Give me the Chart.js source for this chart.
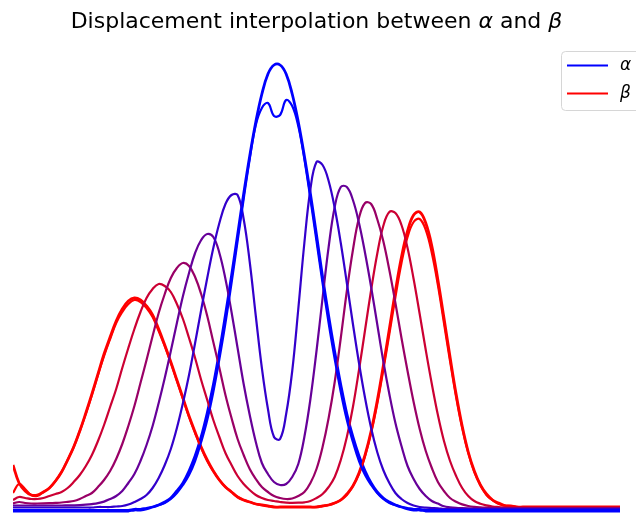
<!DOCTYPE html>
<html>
<head>
<meta charset="utf-8">
<script src="https://cdn.jsdelivr.net/npm/chart.js@4.4.1/dist/chart.umd.min.js"></script>
<style>
  html, body { margin: 0; padding: 0; background: #fff; }
</style>
</head>
<body>
<canvas id="interp" width="636" height="516"></canvas>
<script>
// 101 bins on the support
const xs = Array.from({ length: 101 }, (_, i) => i)

// source distribution
const alpha = [
  0, 0, 0, 0, 0, 0, 0, 0, 0, 0,
  0, 0, 0, 0, 0, 0, 0, 0, 0, 0,
  0.01, 0.01, 0.02, 0.04, 0.06, 0.09, 0.13, 0.2, 0.28, 0.4,
  0.55, 0.74, 0.98, 1.26, 1.59, 1.96, 2.35, 2.76, 3.17, 3.55,
  3.89, 4.17, 4.37, 4.46, 4.46, 4.37, 4.17, 3.89, 3.55, 3.17,
  2.76, 2.34, 1.95, 1.59, 1.26, 0.97, 0.74, 0.55, 0.4, 0.28,
  0.19, 0.13, 0.09, 0.06, 0.04, 0.02, 0.01, 0.01, 0, 0,
  0, 0, 0, 0, 0, 0, 0, 0, 0, 0,
  0, 0, 0, 0, 0, 0, 0, 0, 0, 0,
  0, 0, 0, 0, 0, 0, 0, 0, 0, 0, 0
]

// target distribution (two bumps)
const beta = [
  0.46, 0.28, 0.2, 0.16, 0.16, 0.19, 0.23, 0.3, 0.39, 0.51,
  0.64, 0.8, 0.98, 1.17, 1.37, 1.57, 1.74, 1.9, 2.02, 2.1,
  2.13, 2.11, 2.05, 1.96, 1.82, 1.66, 1.49, 1.31, 1.13, 0.95,
  0.79, 0.64, 0.51, 0.4, 0.31, 0.24, 0.19, 0.14, 0.11, 0.09,
  0.07, 0.06, 0.05, 0.04, 0.04, 0.04, 0.04, 0.04, 0.04, 0.04,
  0.04, 0.05, 0.06, 0.08, 0.11, 0.17, 0.25, 0.38, 0.56, 0.8,
  1.1, 1.45, 1.82, 2.2, 2.54, 2.8, 2.96, 2.99, 2.88, 2.65,
  2.31, 1.93, 1.54, 1.17, 0.85, 0.59, 0.4, 0.26, 0.17, 0.11,
  0.08, 0.055, 0.05, 0.04, 0.04, 0.04, 0.04, 0.04, 0.04, 0.04,
  0.04, 0.04, 0.04, 0.04, 0.04, 0.04, 0.04, 0.04, 0.04, 0.04, 0.04
]

// interpolated measures at t = 0, 0.2, 0.4, 0.6, 0.8, 1
const ts = [0, 0.2, 0.4, 0.6, 0.8, 1]

const interp0 = [
  0.01, 0.01, 0.01, 0.01, 0.01, 0.01, 0.01, 0.01, 0.01, 0.01,
  0.01, 0.01, 0.01, 0.01, 0.01, 0.01, 0.01, 0.01, 0.01, 0.01,
  0.02, 0.02, 0.03, 0.04, 0.06, 0.08, 0.12, 0.18, 0.26, 0.36,
  0.5, 0.69, 0.91, 1.19, 1.52, 1.88, 2.28, 2.7, 3.12, 3.52,
  3.86, 4.03, 4.08, 3.95, 3.96, 4.11, 4.05, 3.85, 3.52, 3.12,
  2.7, 2.28, 1.88, 1.52, 1.19, 0.91, 0.69, 0.5, 0.36, 0.26,
  0.18, 0.12, 0.08, 0.06, 0.04, 0.03, 0.02, 0.02, 0.01, 0.01,
  0.01, 0.01, 0.01, 0.01, 0.01, 0.01, 0.01, 0.01, 0.01, 0.01,
  0.01, 0.01, 0.01, 0.01, 0.01, 0.01, 0.01, 0.01, 0.01, 0.01,
  0.01, 0.01, 0.01, 0.01, 0.01, 0.01, 0.01, 0.01, 0.01, 0.01, 0.01
]

const interp1 = [
  0.035, 0.035, 0.035, 0.035, 0.035, 0.035, 0.035, 0.035, 0.035, 0.035,
  0.035, 0.035, 0.035, 0.035, 0.04, 0.04, 0.04, 0.045, 0.05, 0.065,
  0.09, 0.12, 0.16, 0.23, 0.33, 0.46, 0.62, 0.83, 1.08, 1.36,
  1.68, 2.01, 2.33, 2.63, 2.88, 3.07, 3.16, 3.16, 2.92, 2.49,
  1.95, 1.43, 1.02, 0.74, 0.72, 0.97, 1.4, 2.02, 2.68, 3.22,
  3.49, 3.46, 3.3, 3.03, 2.68, 2.28, 1.87, 1.48, 1.13, 0.83,
  0.59, 0.41, 0.28, 0.18, 0.12, 0.08, 0.055, 0.04, 0.033, 0.03,
  0.027, 0.02, 0.02, 0.02, 0.02, 0.02, 0.02, 0.02, 0.02, 0.02,
  0.02, 0.02, 0.02, 0.02, 0.02, 0.02, 0.02, 0.02, 0.02, 0.02,
  0.02, 0.02, 0.02, 0.02, 0.02, 0.02, 0.02, 0.02, 0.02, 0.02, 0.02
]

const interp2 = [
  0.055, 0.055, 0.055, 0.055, 0.055, 0.055, 0.055, 0.055, 0.055, 0.056,
  0.057, 0.059, 0.063, 0.069, 0.078, 0.094, 0.12, 0.15, 0.2, 0.28,
  0.37, 0.5, 0.66, 0.85, 1.08, 1.33, 1.6, 1.88, 2.15, 2.38,
  2.58, 2.71, 2.77, 2.74, 2.58, 2.32, 1.99, 1.63, 1.27, 0.96,
  0.69, 0.48, 0.37, 0.29, 0.26, 0.27, 0.34, 0.47, 0.74, 1.12,
  1.6, 2.13, 2.64, 3.04, 3.24, 3.24, 3.11, 2.88, 2.58, 2.24,
  1.87, 1.5, 1.17, 0.88, 0.65, 0.45, 0.32, 0.22, 0.15, 0.1,
  0.074, 0.047, 0.037, 0.031, 0.028, 0.026, 0.025, 0.025, 0.025, 0.025,
  0.025, 0.025, 0.025, 0.025, 0.025, 0.025, 0.025, 0.025, 0.025, 0.025,
  0.025, 0.025, 0.025, 0.025, 0.025, 0.025, 0.025, 0.025, 0.025, 0.025, 0.025
]

const interp3 = [
  0.075, 0.09, 0.08, 0.075, 0.075, 0.076, 0.078, 0.081, 0.085, 0.092,
  0.1, 0.12, 0.15, 0.18, 0.24, 0.31, 0.4, 0.52, 0.67, 0.85,
  1.05, 1.28, 1.51, 1.75, 1.98, 2.17, 2.33, 2.43, 2.48, 2.45,
  2.34, 2.17, 1.95, 1.69, 1.43, 1.16, 0.93, 0.72, 0.56, 0.42,
  0.32, 0.24, 0.19, 0.15, 0.13, 0.12, 0.125, 0.15, 0.19, 0.28,
  0.42, 0.64, 0.93, 1.29, 1.73, 2.2, 2.61, 2.93, 3.08, 3.07,
  2.92, 2.7, 2.41, 2.08, 1.73, 1.4, 1.09, 0.82, 0.6, 0.43,
  0.29, 0.2, 0.13, 0.093, 0.066, 0.05, 0.041, 0.036, 0.033, 0.031,
  0.03, 0.03, 0.03, 0.03, 0.03, 0.03, 0.03, 0.03, 0.03, 0.03,
  0.03, 0.03, 0.03, 0.03, 0.03, 0.03, 0.03, 0.03, 0.03, 0.03, 0.03
]

const interp4 = [
  0.11, 0.14, 0.13, 0.12, 0.12, 0.13, 0.15, 0.17, 0.19, 0.23,
  0.29, 0.36, 0.45, 0.56, 0.7, 0.86, 1.04, 1.22, 1.43, 1.63,
  1.82, 1.99, 2.13, 2.22, 2.27, 2.25, 2.19, 2.07, 1.92, 1.73,
  1.53, 1.31, 1.11, 0.91, 0.74, 0.58, 0.46, 0.35, 0.27, 0.21,
  0.16, 0.13, 0.11, 0.1, 0.09, 0.083, 0.082, 0.083, 0.087, 0.1,
  0.13, 0.17, 0.24, 0.34, 0.51, 0.74, 1.04, 1.41, 1.81, 2.21,
  2.57, 2.85, 2.99, 2.98, 2.86, 2.63, 2.32, 1.97, 1.61, 1.27,
  0.96, 0.7, 0.5, 0.35, 0.23, 0.15, 0.1, 0.073, 0.056, 0.045,
  0.04, 0.037, 0.035, 0.035, 0.035, 0.035, 0.035, 0.035, 0.035, 0.035,
  0.035, 0.035, 0.035, 0.035, 0.035, 0.035, 0.035, 0.035, 0.035, 0.035, 0.035
]

const interp5 = [
  0.18, 0.27, 0.22, 0.16, 0.15, 0.19, 0.23, 0.3, 0.39, 0.51,
  0.64, 0.8, 0.97, 1.16, 1.36, 1.55, 1.72, 1.88, 1.99, 2.07,
  2.11, 2.09, 2.03, 1.94, 1.8, 1.65, 1.48, 1.3, 1.12, 0.94,
  0.78, 0.63, 0.5, 0.4, 0.31, 0.24, 0.19, 0.14, 0.11, 0.09,
  0.07, 0.06, 0.05, 0.04, 0.04, 0.04, 0.04, 0.04, 0.04, 0.04,
  0.04, 0.05, 0.06, 0.08, 0.11, 0.16, 0.25, 0.37, 0.55, 0.78,
  1.07, 1.41, 1.77, 2.14, 2.48, 2.74, 2.89, 2.92, 2.81, 2.58,
  2.26, 1.88, 1.5, 1.14, 0.83, 0.58, 0.39, 0.26, 0.16, 0.11,
  0.07, 0.055, 0.05, 0.04, 0.04, 0.04, 0.04, 0.04, 0.04, 0.04,
  0.04, 0.04, 0.04, 0.04, 0.04, 0.04, 0.04, 0.04, 0.04, 0.04, 0.04
]

const interps = [interp0, interp1, interp2, interp3, interp4, interp5]

// title pieces, greek letters set in italic like math text
const titleParts = [
  ['Displacement interpolation between ', false],
  ['α', true],
  [' and ', false],
  ['β', true],
]

// blue -> red as t goes from 0 to 1
function tColor(t) {
  return 'rgb(' + Math.round(255 * t) + ',0,' + Math.round(255 * (1 - t)) + ')'
}

function toPoints(ys) {
  return xs.map((x, i) => ({ x: x, y: ys[i] }))
}

let datasets = []
interps.forEach((ys, k) => {
  datasets.push({
    data: toPoints(ys),
    borderColor: tColor(ts[k]),
    borderWidth: 2.2,
  })
})
datasets.push({ label: 'α', data: toPoints(alpha), borderColor: 'rgb(0,0,255)', borderWidth: 2.8, inLegend: true })
datasets.push({ label: 'β', data: toPoints(beta), borderColor: 'rgb(255,0,0)', borderWidth: 2.8, inLegend: true })

// title with mixed upright / italic runs, centred over the plot area
const mixedTitle = {
  id: 'mixedTitle',
  afterDraw(chart) {
    const ctx = chart.ctx
    const fontFor = it => (it ? 'italic ' : '') + '22px "DejaVu Sans"'
    ctx.save()
    let total = 0
    titleParts.forEach(([s, it]) => {
      ctx.font = fontFor(it)
      total += ctx.measureText(s).width
    })
    const area = chart.chartArea
    let x = (area.left + area.right) / 2 - total / 2
    ctx.fillStyle = '#000'
    ctx.textBaseline = 'middle'
    titleParts.forEach(([s, it]) => {
      ctx.font = fontFor(it)
      ctx.fillText(s, x, 22)
      x += ctx.measureText(s).width
    })
    ctx.restore()
  }
}

// matplotlib-like framed legend in the top right corner
const boxLegend = {
  id: 'boxLegend',
  afterDraw(chart) {
    const ctx = chart.ctx
    const items = chart.data.datasets.filter(d => d.inLegend)
    const x0 = 561.5, y0 = 51.5, w = 90, h = 59
    ctx.save()
    ctx.beginPath()
    ctx.roundRect(x0, y0, w, h, 4)
    ctx.fillStyle = 'rgba(255,255,255,0.8)'
    ctx.fill()
    ctx.strokeStyle = '#d6d6d6'
    ctx.lineWidth = 1
    ctx.stroke()
    items.forEach((d, k) => {
      const y = 65.5 + k * 28
      ctx.beginPath()
      ctx.moveTo(567, y)
      ctx.lineTo(608, y)
      ctx.strokeStyle = d.borderColor
      ctx.lineWidth = 2.2
      ctx.stroke()
      ctx.fillStyle = '#000'
      ctx.font = 'italic 17px "DejaVu Sans"'
      ctx.textBaseline = 'middle'
      ctx.fillText(d.label, 620, y)
    })
    ctx.restore()
  }
}

new Chart('interp', {
  type: 'line',
  data: { datasets: datasets },
  options: {
    responsive: false,
    animation: false,
    layout: { padding: { left: 13, right: 16, top: 40, bottom: 0 } },
    elements: {
      point: { radius: 0 },
      line: { tension: 0.4, fill: false },
    },
    scales: {
      x: { type: 'linear', min: 0, max: 100, display: false },
      y: { min: -0.05, max: 4.71, display: false },
    },
    plugins: {
      legend: { display: false },
      tooltip: { enabled: false },
      title: { display: false },
    },
  },
  plugins: [mixedTitle, boxLegend],
})
</script>
</body>
</html>
